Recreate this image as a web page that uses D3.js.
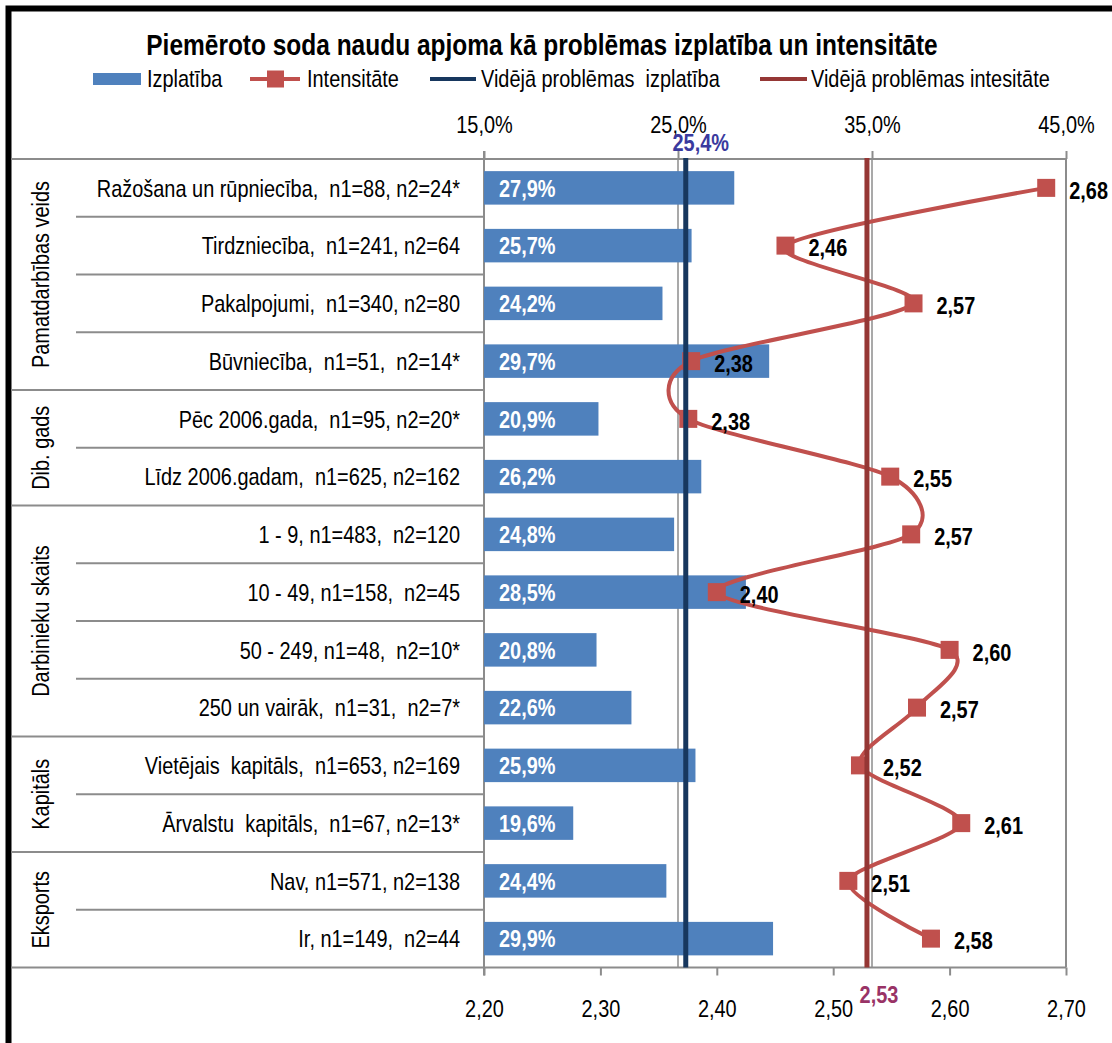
<!DOCTYPE html>
<html>
<head>
  <meta charset="utf-8">
  <title>Izplatība un intensitāte</title>
  <script src="https://d3js.org/d3.v7.min.js"></script>
</head>
<body style="margin:0px; overflow:hidden; background:#fff;">
  <svg id="chart" width="1112" height="1043"></svg>
  <script>
    // Data
    const categories = [
      "Ražošana un rūpniecība,  n1=88, n2=24*",
      "Tirdzniecība,  n1=241, n2=64",
      "Pakalpojumi,  n1=340, n2=80",
      "Būvniecība,  n1=51,  n2=14*",
      "Pēc 2006.gada,  n1=95, n2=20*",
      "Līdz 2006.gadam,  n1=625, n2=162",
      "1 - 9, n1=483,  n2=120",
      "10 - 49, n1=158,  n2=45",
      "50 - 249, n1=48,  n2=10*",
      "250 un vairāk,  n1=31,  n2=7*",
      "Vietējais  kapitāls,  n1=653, n2=169",
      "Ārvalstu  kapitāls,  n1=67, n2=13*",
      "Nav, n1=571, n2=138",
      "Ir, n1=149,  n2=44"
    ];
    const groupNames = ["Pamatdarbības veids", "Dib. gads", "Darbinieku skaits", "Kapitāls", "Eksports"];
    const groupSizes = [4, 2, 4, 2, 2];

    const izplatiba = [27.9, 25.7, 24.2, 29.7, 20.9, 26.2, 24.8, 28.5, 20.8, 22.6, 25.9, 19.6, 24.4, 29.9];
    const intensitate = [2.683, 2.459, 2.569, 2.378, 2.3755, 2.549, 2.567, 2.400, 2.600, 2.572, 2.523, 2.610, 2.513, 2.584];
    const avgIzplatiba = 25.4;
    const avgIntensitate = 2.529;

    const pctTicks = [15, 25, 35, 45];
    const intTicks = [2.2, 2.3, 2.4, 2.5, 2.6, 2.7];

    const legendLabels = ["Izplatība", "Intensitāte", "Vidējā problēmas  izplatība", "Vidējā problēmas intesitāte"];
    const title = "Piemēroto soda naudu apjoma kā problēmas izplatība un intensitāte";

    // Layout
    const font = "'Liberation Sans', Arial, sans-serif";
    const sx = 0.83; // condense like Arial Narrow
    const pLeft = 484, pRight = 1066, pTop = 159, pBottom = 967.5;
    const grey = "#8c8c8c";
    const barColor = "#4f81bd";
    const serColor = "#c0504d";
    const navy = "#17375e";
    const darkRed = "#953735";

    const svg = d3.select("#chart").style("font-family", font);
    svg.append("rect").attr("width", 1112).attr("height", 1043).attr("fill", "#fff");

    // outer border (left and top are visible)
    svg.append("path")
      .attr("d", "M8.5,1043 V8.5 H1112")
      .attr("fill", "none").attr("stroke", "#000").attr("stroke-width", 6);

    const comma = s => s.replace(".", ",");

    // turn x/y into a transform so the text can be squeezed horizontally
    function narrow(sel) {
      sel.each(function () {
        const t = d3.select(this);
        const x = +t.attr("x") || 0, yy = +t.attr("y") || 0;
        t.attr("x", null).attr("y", null)
          .attr("transform", "translate(" + x + "," + yy + ") scale(" + sx + ",1)");
      });
      return sel;
    }

    // Scales
    const xPct = d3.scaleLinear().domain([15, 45]).range([pLeft, pRight]);
    const xInt = d3.scaleLinear().domain([2.2, 2.7]).range([pLeft, pRight]);
    const y = d3.scaleBand().domain(categories).range([pTop, pBottom])
      .paddingInner(0.42).paddingOuter(0.21);
    const yc = c => y(c) + y.bandwidth() / 2;
    const step = y.step();

    // Title
    svg.append("text")
      .attr("x", 542).attr("y", 55)
      .attr("text-anchor", "middle")
      .attr("font-weight", "bold").attr("font-size", 29.5)
      .text(title)
      .call(narrow);

    // Legend
    const lg = svg.append("g").attr("font-size", 24);
    lg.append("rect").attr("x", 93).attr("y", 73).attr("width", 48).attr("height", 12).attr("fill", barColor);
    lg.append("text").attr("x", 147).attr("y", 87).text(legendLabels[0]);
    lg.append("line").attr("x1", 250).attr("x2", 300).attr("y1", 79).attr("y2", 79)
      .attr("stroke", serColor).attr("stroke-width", 4);
    lg.append("rect").attr("x", 267).attr("y", 70.5).attr("width", 17).attr("height", 17).attr("fill", serColor);
    lg.append("text").attr("x", 307).attr("y", 87).text(legendLabels[1]);
    lg.append("line").attr("x1", 430).attr("x2", 476).attr("y1", 79).attr("y2", 79)
      .attr("stroke", navy).attr("stroke-width", 4);
    lg.append("text").attr("x", 481).attr("y", 87).text(legendLabels[2]);
    lg.append("line").attr("x1", 760).attr("x2", 807).attr("y1", 79).attr("y2", 79)
      .attr("stroke", darkRed).attr("stroke-width", 4);
    lg.append("text").attr("x", 811).attr("y", 87).text(legendLabels[3]);
    lg.selectAll("text").style("white-space", "pre").call(narrow);

    // Gridlines from the percent axis
    svg.append("g")
      .selectAll("line")
      .data(pctTicks.slice(1, -1)).enter()
      .append("line")
      .attr("x1", d => xPct(d)).attr("x2", d => xPct(d))
      .attr("y1", pTop).attr("y2", pBottom)
      .attr("stroke", grey).attr("stroke-width", 1.5);

    // Top axis (percent)
    const topAxis = svg.append("g")
      .attr("transform", "translate(0," + pTop + ")")
      .call(d3.axisTop(xPct).tickValues(pctTicks).tickSize(8).tickPadding(18)
        .tickFormat(d => comma(d3.format(".1f")(d)) + "%"));

    // Bottom axis (intensity)
    const botAxis = svg.append("g")
      .attr("transform", "translate(0," + pBottom + ")")
      .call(d3.axisBottom(xInt).tickValues(intTicks).tickSize(8).tickPadding(24)
        .tickFormat(d => comma(d3.format(".2f")(d))));

    [topAxis, botAxis].forEach(a => {
      a.selectAll("text").attr("font-size", 24).attr("font-family", font).attr("fill", "#000")
        .attr("transform", "scale(" + sx + ",1)");
      a.selectAll("line").attr("stroke", grey).attr("stroke-width", 2);
      a.select(".domain").attr("stroke", grey).attr("stroke-width", 2).attr("d",
        "M" + pLeft + ",0H" + pRight);
    });

    // Plot frame: left axis, right border
    svg.append("line").attr("x1", pLeft).attr("x2", pLeft).attr("y1", pTop - 8).attr("y2", pBottom + 8)
      .attr("stroke", grey).attr("stroke-width", 2);
    svg.append("line").attr("x1", pRight).attr("x2", pRight).attr("y1", pTop).attr("y2", pBottom)
      .attr("stroke", grey).attr("stroke-width", 2);

    // Category separators
    const groupStarts = [];
    let acc = 0;
    groupSizes.forEach(n => { groupStarts.push(acc); acc += n; });
    const sepIdx = d3.range(categories.length + 1);
    svg.append("g")
      .selectAll("line")
      .data(sepIdx).enter()
      .append("line")
      .attr("x1", i => (i === categories.length || groupStarts.includes(i)) ? 11 : 76)
      .attr("x2", pLeft)
      .attr("y1", i => pTop + i * step).attr("y2", i => pTop + i * step)
      .attr("stroke", grey).attr("stroke-width", 2);

    // Group labels
    svg.append("g")
      .selectAll("text")
      .data(groupNames).enter()
      .append("text")
      .attr("transform", (d, i) => {
        const cy = pTop + (groupStarts[i] + groupSizes[i] / 2) * step;
        return "translate(40," + cy + ") rotate(-90) scale(" + sx + ",1)";
      })
      .attr("text-anchor", "middle")
      .attr("dy", "0.36em")
      .attr("font-size", 24)
      .text(d => d);

    // Category labels
    svg.append("g")
      .selectAll("text")
      .data(categories).enter()
      .append("text")
      .attr("x", 460)
      .attr("y", d => yc(d))
      .attr("dy", "0.36em")
      .attr("text-anchor", "end")
      .attr("font-size", 24)
      .style("white-space", "pre")
      .text(d => d)
      .call(narrow);

    // Bars
    svg.append("g")
      .selectAll("rect")
      .data(izplatiba).enter()
      .append("rect")
      .attr("x", xPct(15))
      .attr("y", (d, i) => y(categories[i]))
      .attr("width", d => xPct(d) - xPct(15))
      .attr("height", y.bandwidth())
      .attr("fill", barColor);

    // Intensity line
    const pts = intensitate.map((v, i) => [xInt(v), yc(categories[i])]);
    svg.append("path")
      .attr("d", d3.line().curve(d3.curveCardinal.tension(0.2))(pts))
      .attr("fill", "none")
      .attr("stroke", serColor)
      .attr("stroke-width", 4);

    svg.append("g")
      .selectAll("rect")
      .data(pts).enter()
      .append("rect")
      .attr("x", d => d[0] - 9).attr("y", d => d[1] - 9)
      .attr("width", 18).attr("height", 18)
      .attr("fill", serColor);

    // Average lines
    svg.append("line")
      .attr("x1", xPct(avgIzplatiba)).attr("x2", xPct(avgIzplatiba))
      .attr("y1", pTop - 1).attr("y2", pBottom)
      .attr("stroke", navy).attr("stroke-width", 5);
    svg.append("line")
      .attr("x1", xInt(avgIntensitate)).attr("x2", xInt(avgIntensitate))
      .attr("y1", pTop - 1).attr("y2", pBottom)
      .attr("stroke", darkRed).attr("stroke-width", 5);

    svg.append("text")
      .attr("x", xPct(avgIzplatiba) + 15).attr("y", 151)
      .attr("text-anchor", "middle")
      .attr("font-weight", "bold").attr("font-size", 24)
      .attr("fill", "#3a3a9e")
      .text(comma(d3.format(".1f")(avgIzplatiba)) + "%")
      .call(narrow);
    svg.append("text")
      .attr("x", xInt(avgIntensitate) + 12).attr("y", 1003)
      .attr("text-anchor", "middle")
      .attr("font-weight", "bold").attr("font-size", 24)
      .attr("fill", "#993366")
      .text(comma(d3.format(".2f")(avgIntensitate)))
      .call(narrow);

    // Bar labels
    svg.append("g")
      .selectAll("text")
      .data(izplatiba).enter()
      .append("text")
      .attr("x", xPct(15) + 15)
      .attr("y", (d, i) => yc(categories[i]))
      .attr("dy", "0.36em")
      .attr("font-size", 24).attr("font-weight", "bold")
      .attr("fill", "#fff")
      .text(d => comma(d3.format(".1f")(d)) + "%")
      .call(narrow);

    // Intensity labels
    svg.append("g")
      .selectAll("text")
      .data(intensitate).enter()
      .append("text")
      .attr("x", d => xInt(d) + 23)
      .attr("y", (d, i) => yc(categories[i]) + 2)
      .attr("dy", "0.36em")
      .attr("font-size", 24).attr("font-weight", "bold")
      .attr("fill", "#000")
      .text(d => comma(d3.format(".2f")(d)))
      .call(narrow);
  </script>
</body>
</html>
